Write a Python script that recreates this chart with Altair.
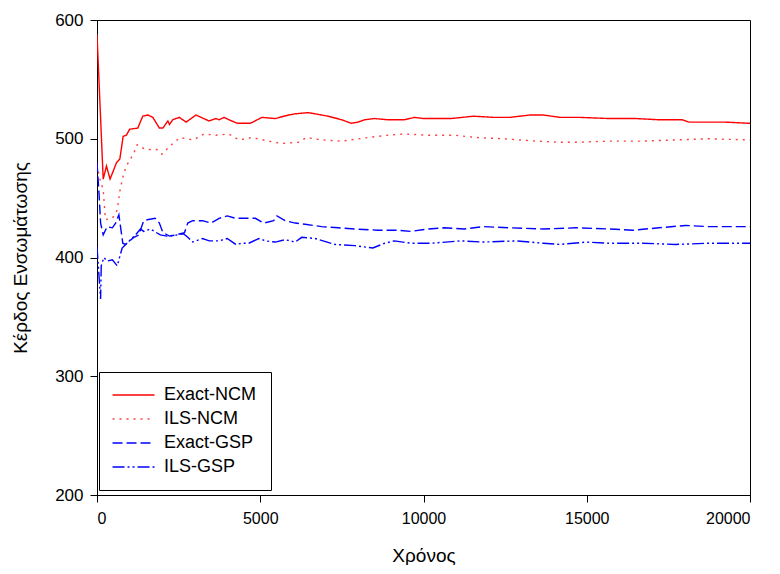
import altair as alt
import pandas as pd

series_names = ["Exact-NCM", "ILS-NCM", "Exact-GSP", "ILS-GSP"]
series_colors = ["#ff0000", "#ff4040", "#0000ff", "#0000ff"]
series_dashes = [[1, 0], [2, 5], [10, 4], [12, 3, 2, 3, 2, 3]]

exact_ncm_x = [0, 190, 290, 400, 600, 700, 800, 900, 1000, 1250,
               1400, 1560, 1710, 1910, 2020, 2170, 2220, 2320, 2520, 2730,
               3030, 3430, 3640, 3740, 3890, 4040, 4300, 4700, 5050, 5460,
               5870, 6070, 6470, 6880, 7080, 7490, 7790, 7990, 8200, 8500,
               8910, 9410, 9720, 10020, 10630, 10830, 11540, 12150, 12650, 13260,
               13670, 14180, 14780, 15700, 16510, 17210, 17920, 18130, 18730, 19240,
               20000]
exact_ncm_y = [588, 466, 477, 466, 480, 483, 502, 503, 508, 509,
               519, 520, 518, 509, 509, 515, 512, 516, 518, 514,
               520, 515, 517, 516, 518, 516, 513, 513, 518, 517,
               520, 521, 522, 520, 519, 516, 513, 514, 516, 517,
               516, 516, 518, 517, 517, 517, 519, 518, 518, 520,
               520, 518, 518, 517, 517, 516, 516, 514, 514, 514,
               513]

ils_ncm_x = [0, 90, 190, 260, 470, 620, 700, 820, 920, 1130,
             1230, 1480, 1830, 1990, 2240, 2540, 2950, 3280, 3640, 4040,
             4350, 4750, 5260, 5660, 6170, 6420, 6880, 7490, 8300, 8910,
             9410, 10120, 10930, 11640, 12450, 13470, 14170, 14680, 15700, 16710,
             17720, 18730, 20000]
ils_ncm_y = [478, 466, 457, 432, 433, 440, 456, 471, 478, 488,
             495, 491, 491, 487, 494, 501, 499, 504, 503, 504,
             499, 501, 498, 496, 497, 501, 499, 498, 501, 503,
             504, 503, 503, 501, 500, 498, 497, 497, 498, 498,
             499, 500, 499]

exact_gsp_x = [0, 60, 110, 190, 310, 470, 570, 670, 790, 870,
               1130, 1280, 1430, 1580, 1780, 1910, 2020, 2220, 2420, 2680,
               2780, 2930, 3230, 3490, 3740, 3990, 4250, 4550, 4850, 5110,
               5410, 5510, 5760, 6070, 6370, 6880, 7390, 7890, 8600, 9210,
               9620, 10120, 10630, 11240, 11840, 12650, 13670, 14680, 15700, 16410,
               17210, 18030, 18730, 20000]
exact_gsp_y = [480, 455, 429, 419, 426, 425, 429, 436, 412, 411,
               417, 419, 431, 432, 433, 429, 421, 418, 419, 421,
               429, 431, 431, 429, 433, 435, 433, 433, 433, 429,
               431, 435, 431, 429, 428, 426, 425, 424, 423, 423,
               422, 424, 425, 424, 426, 425, 424, 425, 424, 423,
               425, 427, 426, 426]

ils_gsp_x = [0, 110, 130, 210, 310, 470, 620, 770, 920, 1180,
             1330, 1430, 1630, 1940, 2140, 2440, 2650, 2780, 2930, 3230,
             3440, 3740, 3990, 4250, 4450, 4650, 4960, 5160, 5460, 5760,
             6070, 6270, 6680, 7290, 7890, 8450, 8810, 9110, 9620, 10230,
             11140, 11840, 12850, 13670, 14180, 14990, 15700, 16710, 17720, 18730,
             20000]
ils_gsp_y = [409, 365, 393, 400, 397, 398, 393, 408, 412, 419,
             424, 422, 424, 419, 418, 419, 420, 417, 413, 416,
             414, 414, 416, 411, 412, 412, 416, 414, 413, 415,
             413, 417, 416, 411, 410, 408, 412, 414, 412, 412,
             414, 413, 414, 412, 411, 413, 412, 412, 411, 412,
             412]

x_ticks = [0, 5000, 10000, 15000, 20000]
y_ticks = [200, 300, 400, 500, 600]

rows = []
for name, xs, ys in zip(series_names,
                        [exact_ncm_x, ils_ncm_x, exact_gsp_x, ils_gsp_x],
                        [exact_ncm_y, ils_ncm_y, exact_gsp_y, ils_gsp_y]):
    for i, (xv, yv) in enumerate(zip(xs, ys)):
        rows.append({"series": name, "t": xv, "v": yv, "i": i})
df = pd.DataFrame(rows)

FONT = "Liberation Sans, Arial, sans-serif"

chart = alt.Chart(df).mark_line(strokeWidth=1.4, clip=True).encode(
    x=alt.X("t:Q", scale=alt.Scale(domain=[0, 20000], nice=False),
            axis=alt.Axis(values=x_ticks, format="d", title="Χρόνος")),
    y=alt.Y("v:Q", scale=alt.Scale(domain=[200, 600], nice=False, zero=False),
            axis=alt.Axis(values=y_ticks, format="d", title="Κέρδος Ενσωμάτωσης")),
    color=alt.Color("series:N", scale=alt.Scale(domain=series_names, range=series_colors),
                    legend=alt.Legend(title=None)),
    strokeDash=alt.StrokeDash("series:N", scale=alt.Scale(domain=series_names, range=series_dashes),
                              legend=alt.Legend(title=None)),
    order="i:Q",
).properties(
    width=653, height=475,
    autosize=alt.AutoSizeParams(type="none"),
    padding={"left": 89, "top": 12, "right": 22, "bottom": 70},
).configure_view(
    stroke="black", strokeWidth=1
).configure_axis(
    grid=False, domainColor="black", tickColor="black", tickSize=7,
    labelFont=FONT, labelFontSize=16, labelColor="black",
    titleFont=FONT, titleFontSize=19, titleFontWeight="normal", titleColor="black",
).configure_axisY(
    titlePadding=24, labelPadding=7, labelFontSize=17
).configure_axisX(
    titlePadding=20, labelPadding=8
).configure_legend(
    orient="none", legendX=2, legendY=352, strokeColor="black", fillColor="white",
    padding=14, symbolType="M-2.2,0H7.56", symbolSize=74, symbolStrokeWidth=1.4,
    labelFont=FONT, labelFontSize=18, labelColor="black", labelOffset=33,
    rowPadding=6, cornerRadius=0
)

chart.save("out.html", embed_options={"renderer": "svg", "actions": False})
